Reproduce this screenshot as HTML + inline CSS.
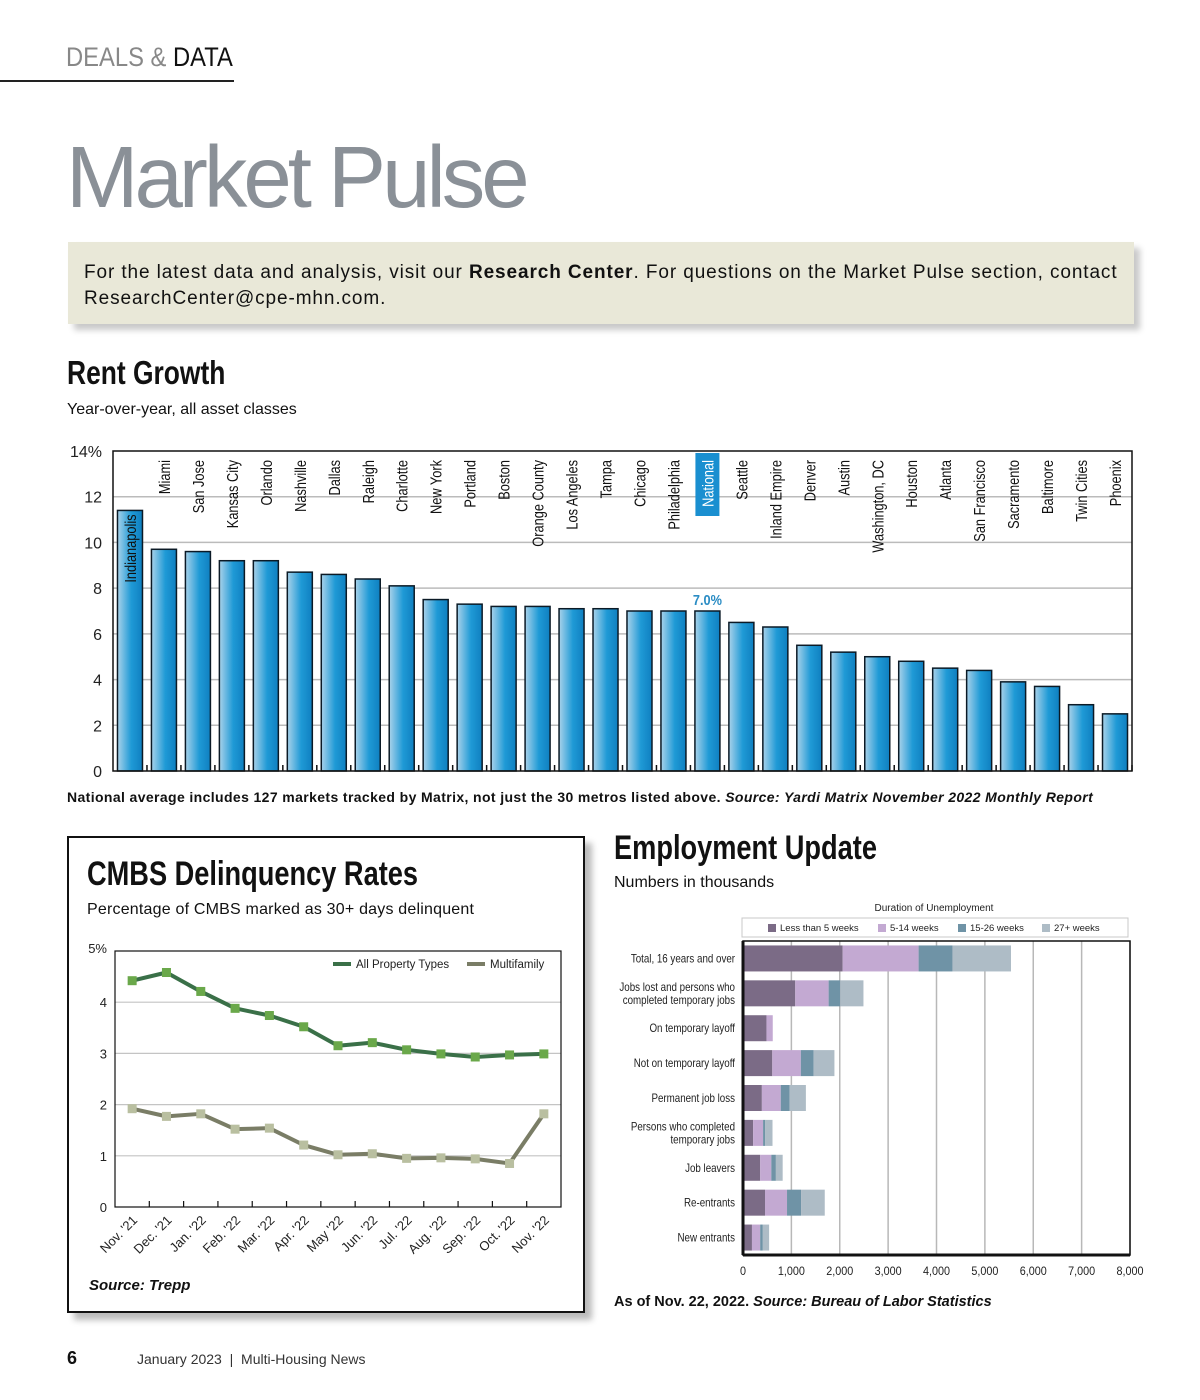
<!DOCTYPE html>
<html><head><meta charset="utf-8">
<style>
*{margin:0;padding:0;box-sizing:border-box}
body{width:1200px;height:1400px;background:#fff;font-family:"Liberation Sans",sans-serif;color:#111;position:relative;overflow:hidden}
.abs{position:absolute}
.cond{transform-origin:0 0;transform:scaleX(0.8);white-space:nowrap}
svg text{font-family:"Liberation Sans",sans-serif}
</style></head><body>
<div class="abs cond" style="left:66px;top:42px;font-size:27px;color:#888;transform:scaleX(0.88)"><span>DEALS &amp; </span><span style="color:#111">DATA</span></div>
<div class="abs" style="left:0;top:80px;width:234px;height:2px;background:#222"></div>
<div class="abs" style="left:66px;top:128px;font-size:87px;letter-spacing:-4px;color:#8a9097">Market Pulse</div>
<div class="abs" style="left:68px;top:242px;width:1066px;height:82px;background:#e9e8d8;box-shadow:6px 6px 6px #c9c9c9;padding:18px 10px 18px 16px;font-size:19px;line-height:26px;letter-spacing:0.9px;white-space:nowrap">For the latest data and analysis, visit our <b>Research Center</b>. For questions on the Market Pulse section, contact<br>ResearchCenter@cpe-mhn.com.</div>

<div class="abs cond" style="left:67px;top:354px;font-size:33px;font-weight:bold">Rent Growth</div>
<div class="abs" style="left:67px;top:401px;font-size:16px">Year-over-year, all asset classes</div>
<svg class="abs" id="rent" style="left:0;top:430px" width="1200" height="360"></svg>
<div class="abs" style="left:67px;top:789px;font-size:14px;font-weight:bold;letter-spacing:0.38px;white-space:nowrap">National average includes 127 markets tracked by Matrix, not just the 30 metros listed above. <i>Source: Yardi Matrix November 2022 Monthly Report</i></div>

<div class="abs" style="left:67px;top:836px;width:518px;height:477px;border:2px solid #111;box-shadow:7px 7px 6px #bbb;background:#fff"></div>
<div class="abs cond" style="left:87px;top:855px;font-size:34px;font-weight:bold">CMBS Delinquency Rates</div>
<div class="abs" style="left:87px;top:901px;font-size:16px;letter-spacing:0.2px">Percentage of CMBS marked as 30+ days delinquent</div>
<svg class="abs" id="cmbs" style="left:69px;top:930px" width="510" height="340"></svg>
<div class="abs" style="left:89px;top:1277px;font-size:15px;font-weight:bold;font-style:italic">Source: Trepp</div>

<div class="abs cond" style="left:614px;top:829px;font-size:34px;font-weight:bold">Employment Update</div>
<div class="abs" style="left:614px;top:874px;font-size:16px">Numbers in thousands</div>
<svg class="abs" id="emp" style="left:600px;top:895px" width="560" height="390"></svg>
<div class="abs" style="left:614px;top:1294px;font-size:14.5px;font-weight:bold">As of Nov. 22, 2022. <i>Source: Bureau of Labor Statistics</i></div>

<div class="abs" style="left:67px;top:1348px;font-size:18px;font-weight:bold">6</div>
<div class="abs" style="left:137px;top:1351px;font-size:14px;color:#333">January 2023 &nbsp;|&nbsp; Multi-Housing News</div>

<script>
const NS='http://www.w3.org/2000/svg';
function mk(p,t,a){const e=document.createElementNS(NS,t);for(const k in a)e.setAttribute(k,a[k]);p.appendChild(e);return e;}

// ---------- Rent growth ----------
const rentCities=["Indianapolis","Miami","San Jose","Kansas City","Orlando","Nashville","Dallas","Raleigh","Charlotte","New York","Portland","Boston","Orange County","Los Angeles","Tampa","Chicago","Philadelphia","National","Seattle","Inland Empire","Denver","Austin","Washington, DC","Houston","Atlanta","San Francisco","Sacramento","Baltimore","Twin Cities","Phoenix"];
const rentValues=[11.4,9.7,9.6,9.2,9.2,8.7,8.6,8.4,8.1,7.5,7.3,7.2,7.2,7.1,7.1,7.0,7.0,7.0,6.5,6.3,5.5,5.2,5.0,4.8,4.5,4.4,3.9,3.7,2.9,2.5];
const rentTicks=[0,2,4,6,8,10,12,14];
const rentTickLabels=["0","2","4","6","8","10","12","14%"];
(function(){
const s=document.getElementById('rent');
const d=mk(s,'defs',{});const g=mk(d,'linearGradient',{id:'bg',x1:0,x2:1,y1:0,y2:0});
mk(g,'stop',{offset:0,'stop-color':'#a9d2ea'});mk(g,'stop',{offset:0.55,'stop-color':'#1f9ad6'});mk(g,'stop',{offset:1,'stop-color':'#0f7fc0'});
const L=113,R=1132,T=21,B=341;
const y=v=>B-(v/14)*(B-T);
const bw=(R-L)/rentCities.length;
const x=i=>L+(i+0.5)*bw;
rentTicks.forEach((t,i)=>{
 if(t>0&&t<14){const gl=mk(s,'line',{x1:L,x2:R,y1:y(t),y2:y(t),stroke:'#bbb','stroke-width':1.5});}
 const tx=mk(s,'text',{x:102,y:y(t)+6,'text-anchor':'end','font-size':16,fill:'#222'});tx.textContent=rentTickLabels[i];
 
});
rentValues.forEach((v,i)=>{
 const cx=x(i);
 const r=mk(s,'rect',{x:cx-12.5,y:y(v),width:25,height:B-y(v),fill:'url(#bg)',stroke:'#0b1a26','stroke-width':1.5});
 
 
 mk(s,'line',{x1:L+(i+1)*bw,x2:L+(i+1)*bw,y1:B-6,y2:B,stroke:'#111','stroke-width':1.5});
 const nat=rentCities[i]==='National';
 if(nat){const hb=mk(s,'rect',{x:cx-12,y:T+2,width:24,height:63,fill:'#1a8fd0'});
  const vl=mk(s,'text',{x:cx,y:y(v)-6,'text-anchor':'middle','font-size':15,'font-weight':'bold',fill:'#2a8cc4',transform:`translate(${cx},0) scale(0.85,1) translate(${-cx},0)`});vl.textContent=v.toFixed(1)+'%';
  }
 const ty=(i===0)?y(v)+4:T+9;
 const t=mk(s,'text',{x:0,y:0,'text-anchor':'end','font-size':16,fill:nat?'#fff':'#111',transform:`translate(${cx+6},${ty}) rotate(-90) scale(0.8,1)`});
 t.textContent=rentCities[i];
 
});
mk(s,'rect',{x:L,y:T,width:R-L,height:B-T,fill:'none',stroke:'#111','stroke-width':1.5});
})();

// ---------- CMBS ----------
const cmbsMonths=["Nov. '21","Dec. '21","Jan. '22","Feb. '22","Mar. '22","Apr. '22","May '22","Jun. '22","Jul. '22","Aug. '22","Sep. '22","Oct. '22","Nov. '22"];
const cmbsAll=[4.42,4.58,4.21,3.88,3.74,3.52,3.15,3.21,3.07,2.99,2.93,2.97,2.99];
const cmbsMulti=[1.92,1.77,1.82,1.52,1.54,1.21,1.02,1.04,0.95,0.96,0.94,0.85,1.82];
const cmbsTicks=[0,1,2,3,4,5];
const cmbsTickLabels=["0","1","2","3","4","5%"];
(function(){
const s=document.getElementById('cmbs');
const L=46,R=492,T=21,B=277;
const y=v=>B-(v/5)*(B-T);
const bw=(R-L)/cmbsMonths.length;
const x=i=>L+(i+0.5)*bw;
cmbsTicks.forEach((t,i)=>{
 if(t>0&&t<5)mk(s,'line',{x1:L,x2:R,y1:y(t),y2:y(t),stroke:'#c4c4c4','stroke-width':1.2});
 const tx=mk(s,'text',{x:38,y:y(t)+(t==5?2:5),'text-anchor':'end','font-size':13,fill:'#222'});tx.textContent=cmbsTickLabels[i];
 
});
mk(s,'rect',{x:L,y:T,width:R-L,height:B-T,fill:'none',stroke:'#111','stroke-width':1.2});
for(let i=1;i<cmbsMonths.length;i++)mk(s,'line',{x1:L+i*bw,x2:L+i*bw,y1:B-6,y2:B,stroke:'#111','stroke-width':1.2});
cmbsMonths.forEach((m,i)=>{
 const t=mk(s,'text',{'text-anchor':'end','font-size':13,fill:'#222',transform:`translate(${x(i)+6},${B+14}) rotate(-45)`});t.textContent=m;
 
});
function series(vals,lc,mc,name){
 const p=mk(s,'polyline',{points:vals.map((v,i)=>x(i)+','+y(v)).join(' '),fill:'none',stroke:lc,'stroke-width':4,'stroke-linejoin':'round'});
 
 vals.forEach((v,i)=>{const r=mk(s,'rect',{x:x(i)-4.5,y:y(v)-4.5,width:9,height:9,fill:mc});
  });
}
series(cmbsAll,'#3a7048','#6aa84a','all-property-types');
series(cmbsMulti,'#7a7d66','#b9bfa0','multifamily');
mk(s,'line',{x1:264,x2:282,y1:34,y2:34,stroke:'#3a7048','stroke-width':4});
let t=mk(s,'text',{x:287,y:38,'font-size':11.5,fill:'#222'});t.textContent='All Property Types';

mk(s,'line',{x1:398,x2:416,y1:34,y2:34,stroke:'#7a7d66','stroke-width':4});
t=mk(s,'text',{x:421,y:38,'font-size':11.5,fill:'#222'});t.textContent='Multifamily';

})();

// ---------- Employment ----------
const empCats=[["Total, 16 years and over"],["Jobs lost and persons who","completed temporary jobs"],["On temporary layoff"],["Not on temporary layoff"],["Permanent job loss"],["Persons who completed","temporary jobs"],["Job leavers"],["Re-entrants"],["New entrants"]];
const empSeriesNames=["Less than 5 weeks","5-14 weeks","15-26 weeks","27+ weeks"];
const empLess5=[2060,1080,485,605,390,210,355,455,185];
const emp5to14=[1570,690,130,590,390,205,230,455,170];
const emp15to26=[700,240,0,265,185,45,95,290,55];
const emp27plus=[1210,480,0,430,335,150,140,490,130];
const empTicks=[0,1000,2000,3000,4000,5000,6000,7000,8000];
const empTickLabels=["0","1,000","2,000","3,000","4,000","5,000","6,000","7,000","8,000"];
(function(){
const s=document.getElementById('emp');
const colors=['#7b6b86','#c3a9d2','#6f93a6','#aebcc6'];
const L=143,R=530,T=46,B=360;
const x=v=>L+(v/8000)*(R-L);
const bh=(B-T)/empCats.length;
const yc=i=>T+(i+0.5)*bh;
empTicks.forEach((t,i)=>{
 if(t>0)mk(s,'line',{x1:x(t),x2:x(t),y1:T,y2:B,stroke:'#b8b8b8','stroke-width':1.5});
 const tx=mk(s,'text',{x:0,y:0,'text-anchor':'middle','font-size':12,fill:'#222',transform:`translate(${x(t)},${B+20}) scale(0.9,1)`});tx.textContent=empTickLabels[i];
 
});
const all=[empLess5,emp5to14,emp15to26,emp27plus];
empCats.forEach((c,i)=>{
 let acc=0;
 all.forEach((ser,k)=>{const v=ser[i];if(v>0){const r=mk(s,'rect',{x:x(acc),y:yc(i)-13,width:x(acc+v)-x(acc),height:26,fill:colors[k]});
  }acc+=v;});
 c.forEach((ln,j)=>{const t=mk(s,'text',{x:0,y:0,'text-anchor':'end','font-size':11.5,fill:'#222',transform:`translate(135,${yc(i)+4+(c.length>1?(j-0.5)*13:0)}) scale(0.85,1)`});t.textContent=ln;
  });
});
mk(s,'rect',{x:L,y:T,width:R-L,height:B-T,fill:'none',stroke:'#111','stroke-width':1.5});
mk(s,'line',{x1:L,x2:L,y1:T,y2:B,stroke:'#111','stroke-width':3});
mk(s,'line',{x1:L,x2:R,y1:B,y2:B,stroke:'#111','stroke-width':3});
let t=mk(s,'text',{x:334,y:16,'text-anchor':'middle','font-size':10,fill:'#222'});t.textContent='Duration of Unemployment';

mk(s,'rect',{x:142,y:23,width:386,height:19,fill:'#fff',stroke:'#c8c8c8','stroke-width':1});
const lx=[168,278,358,442];
empSeriesNames.forEach((n,k)=>{mk(s,'rect',{x:lx[k],y:29,width:8,height:8,fill:colors[k]});
 const tt=mk(s,'text',{x:lx[k]+12,y:36,'font-size':9.5,fill:'#222'});tt.textContent=n;
 });
})();
</script>
</body></html>
